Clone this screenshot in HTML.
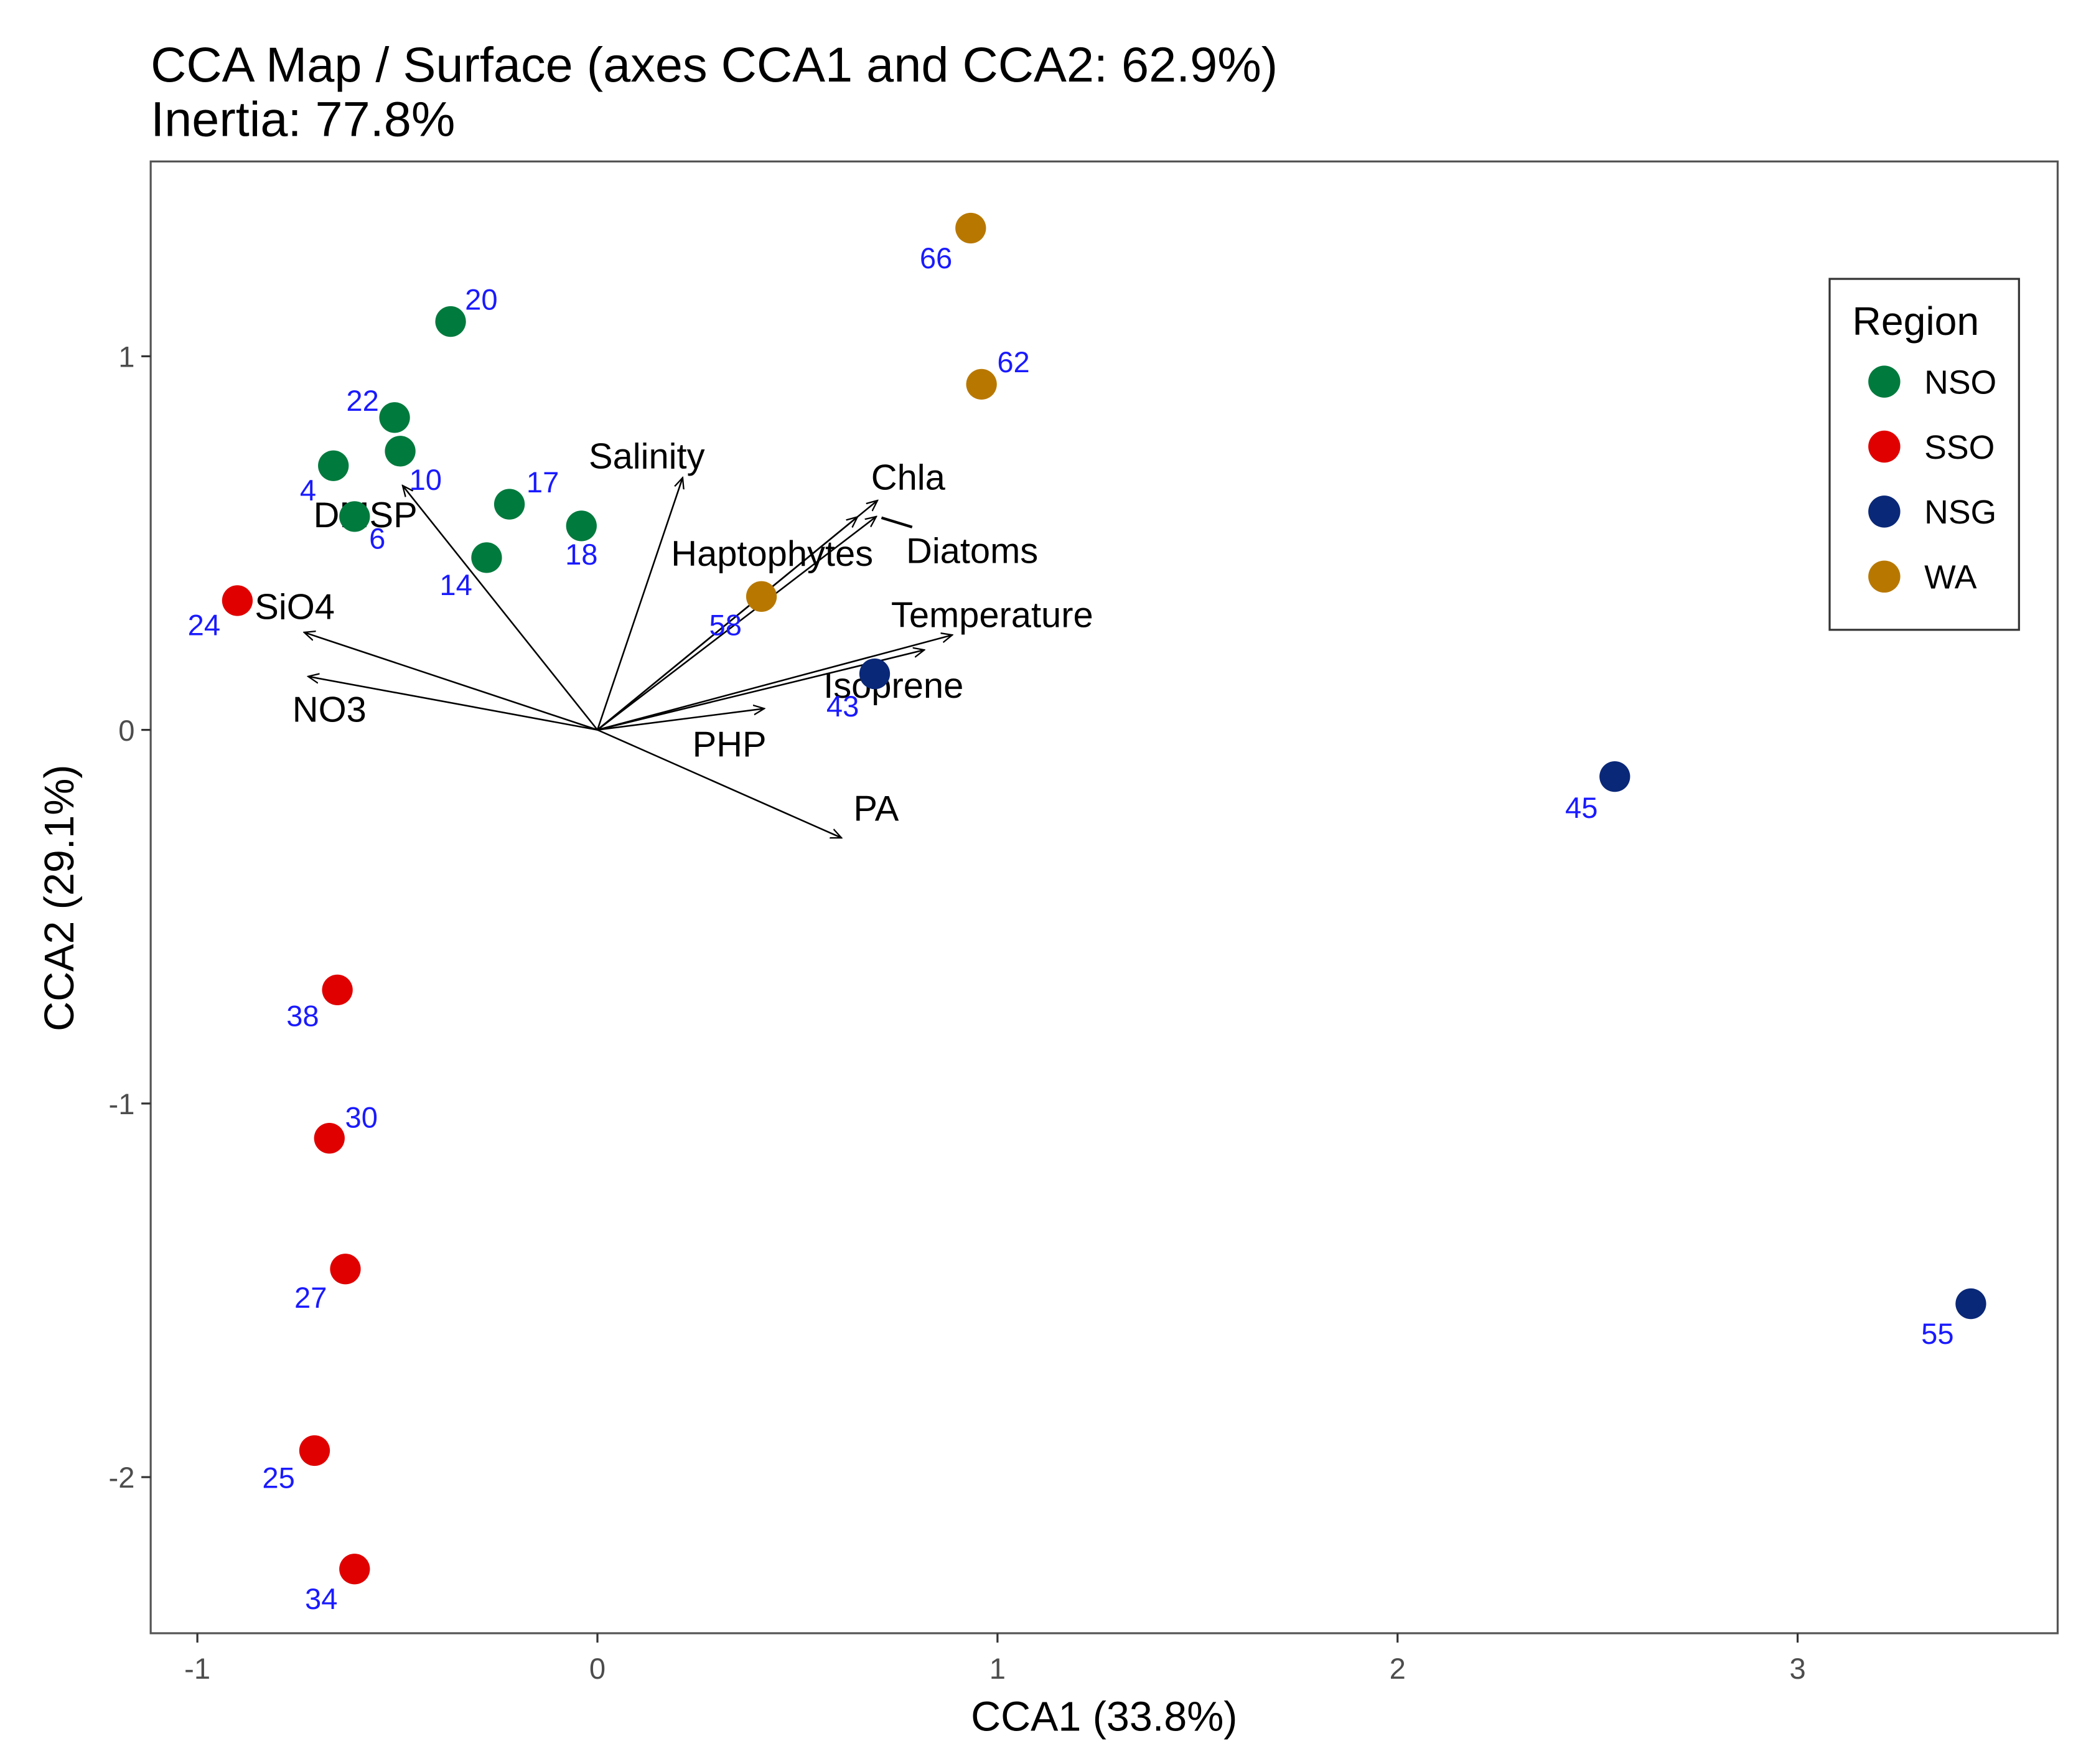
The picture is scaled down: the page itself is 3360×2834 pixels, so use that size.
<!DOCTYPE html>
<html><head><meta charset="utf-8"><style>
html,body{margin:0;padding:0;background:#fff;}
svg{display:block;font-family:"Liberation Sans",Arial,sans-serif;}
</style></head><body>
<svg id="chart" width="3360" height="2834" viewBox="0 0 1568 1322" preserveAspectRatio="none" xmlns="http://www.w3.org/2000/svg">
<defs><marker id="ah" viewBox="0 0 10 10" refX="9" refY="5" markerWidth="9" markerHeight="9" markerUnits="userSpaceOnUse" orient="auto"><path d="M0,1 L9,5 L0,9" fill="none" stroke="#000" stroke-width="1.2"/></marker></defs>
<rect width="1568" height="1322" fill="#fff"/>
<text x="113" y="61" font-size="37" fill="#000">CCA Map / Surface (axes CCA1 and CCA2: 62.9%)</text>
<text x="113" y="102" font-size="37" fill="#000">Inertia: 77.8%</text>
<rect x="113" y="121" width="1430" height="1103" fill="#fff" stroke="#555" stroke-width="1.5"/>
<g id="axes"></g>
<g id="arrows"></g>
<line x1="661" y1="388" x2="684" y2="395" stroke="#000" stroke-width="2"/>
<g id="points"></g>
<text x="828" y="1297" font-size="31" text-anchor="middle" fill="#000">CCA1 (33.8%)</text>
<text x="0" y="0" font-size="31" text-anchor="middle" fill="#000" transform="translate(55,673) rotate(-90)">CCA2 (29.1%)</text>
<g>
<rect x="1372" y="209" width="142" height="263" fill="#fff" stroke="#333" stroke-width="1.5"/>
<text x="1389" y="251" font-size="30" fill="#000">Region</text>
<g id="legend-entries"></g>
</g>
</svg>
<script>
const xTicks=[-1,0,1,2,3];
const yTicks=[1,0,-1,-2];
const groups=["NSO","SSO","NSG","WA"];
const groupColors=["#007a3d","#e00000","#0a2878","#b87800"];
const siteIds=["20","22","10","4","6","17","18","14","24","38","30","27","25","34","43","45","55","66","62","58"];
const siteGroup=[0,0,0,0,0,0,0,0,1,1,1,1,1,1,2,2,2,3,3,3];
const siteX=[-0.367,-0.507,-0.493,-0.66,-0.607,-0.22,-0.04,-0.277,-0.9,-0.65,-0.67,-0.63,-0.707,-0.607,0.693,2.543,3.433,0.933,0.96,0.41];
const siteY=[1.093,0.836,0.746,0.707,0.571,0.604,0.546,0.461,0.346,-0.696,-1.093,-1.443,-1.929,-2.246,0.15,-0.125,-1.536,1.343,0.925,0.357];
const labDx=[23,-24,19,-19,17,25,0,-23,-25,-26,24,-26,-27,-25,-24,-25,-25,-26,24,-27];
const labDy=[-17,-13,21,18,16,-17,21,20,18,19,-16,21,20,22,24,23,22,22,-17,21];
const varNames=["Salinity","Chla","Diatoms","Haptophytes","Temperature","Isoprene","PHP","PA","NO3","SiO4","DMSP"];
const varX=[0.213,0.70,0.697,0.65,0.887,0.817,0.417,0.61,-0.723,-0.733,-0.487];
const varY=[0.675,0.614,0.571,0.57,0.254,0.214,0.057,-0.289,0.143,0.261,0.654];
const varLabX=[485,681,729,579,744,670,547,657,247,221,274];
const varLabY=[341,357,412,414,460,513,557,605,531,454,385];

const NS="http://www.w3.org/2000/svg";
const sx=v=>448+300*v, sy=v=>547-280*v;
function mk(tag,attrs,parent,txt){const e=document.createElementNS(NS,tag);for(const k in attrs)e.setAttribute(k,attrs[k]);if(txt!==undefined)e.textContent=txt;parent.appendChild(e);return e;}
const axes=document.getElementById('axes');
xTicks.forEach(t=>{
 const l=mk('line',{x1:sx(t),x2:sx(t),y1:1224,y2:1231,stroke:'#333','stroke-width':1.5},axes);
 
 
 const tx=mk('text',{x:sx(t),y:1258,'font-size':22,'text-anchor':'middle',fill:'#4d4d4d'},axes,String(t));
 
 
});
yTicks.forEach(t=>{
 const l=mk('line',{x1:106,x2:113,y1:sy(t),y2:sy(t),stroke:'#333','stroke-width':1.5},axes);
 
 
 const tx=mk('text',{x:101,y:sy(t)+8,'font-size':22,'text-anchor':'end',fill:'#4d4d4d'},axes,String(t));
 
 
});
const arrows=document.getElementById('arrows');
varNames.forEach((n,i)=>{
 const l=mk('line',{x1:sx(0),y1:sy(0),x2:sx(varX[i]),y2:sy(varY[i]),stroke:'#000','stroke-width':1.2,'marker-end':'url(#ah)'},arrows);
 
 
 const t=mk('text',{x:varLabX[i],y:varLabY[i]+10,'font-size':27,'text-anchor':'middle',fill:'#000'},arrows,n);
 
 
});
const pts=document.getElementById('points');
siteIds.forEach((id,i)=>{
 const px=sx(siteX[i]),py=sy(siteY[i]);
 const c=mk('circle',{cx:px,cy:py,r:11.5,fill:groupColors[siteGroup[i]]},pts);
 
 
 const t=mk('text',{x:px+labDx[i],y:py+labDy[i]+8,'font-size':22,'text-anchor':'middle',fill:'#1a1aff'},pts,id);
 
 
});
const leg=document.getElementById('legend-entries');
groups.forEach((g,i)=>{
 const y=286+i*48.7;
 const c=mk('circle',{cx:1413,cy:y,r:12,fill:groupColors[i]},leg);
 
 
 const t=mk('text',{x:1443,y:y+9,'font-size':25,fill:'#000'},leg,g);
 
 
});
</script>
</body></html>
